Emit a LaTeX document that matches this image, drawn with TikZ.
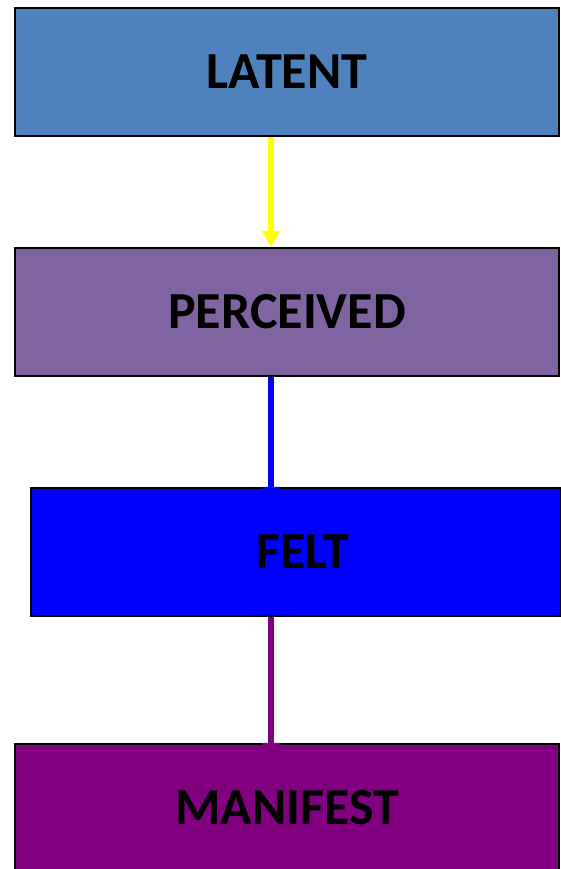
\documentclass[tikz,border=0pt]{standalone}
\usepackage{fontspec}
\setmainfont{Carlito}
\usetikzlibrary{arrows.meta}
\definecolor{latentfill}{HTML}{4F81BD}
\definecolor{perceivedfill}{HTML}{8064A2}
\definecolor{feltfill}{HTML}{0000FF}
\definecolor{manifestfill}{HTML}{800080}
\definecolor{linkyellow}{HTML}{FFFF00}
\tikzset{
  stage/.style={draw=black, line width=2pt, minimum width=544pt, minimum height=128pt,
    inner sep=0pt, font=\fontsize{52}{62}\selectfont\bfseries, text=black},
  link/.style={line width=6pt, -{Triangle[width=17pt,length=16pt]}},
}
\begin{document}
\begin{tikzpicture}[x=1pt,y=1pt]
  \useasboundingbox (0,0) rectangle (560,869);
  % the four stages, top to bottom
  \node[stage, fill=latentfill]    (latent)    at (287,797) {LATENT};
  \node[stage, fill=perceivedfill] (perceived) at (287,557) {PERCEIVED};
  \node[stage, fill=feltfill, minimum width=530pt] (felt) at (296,317)
    {\hspace*{14pt}FELT};
  \node[stage, fill=manifestfill]  (manifest)  at (287,61)  {MANIFEST};
  % links between the stages
  \draw[link, draw=linkyellow, fill=linkyellow]
    ([xshift=-16pt]latent.south) -- ([xshift=-16pt]perceived.north);
  \draw[link, draw=feltfill, fill=feltfill, shorten >=-16pt]
    ([xshift=-16pt]perceived.south) -- ([xshift=-25pt]felt.north);
  \draw[link, draw=manifestfill, fill=manifestfill, shorten >=-16pt]
    ([xshift=-25pt]felt.south) -- ([xshift=-16pt]manifest.north);
\end{tikzpicture}
\end{document}
